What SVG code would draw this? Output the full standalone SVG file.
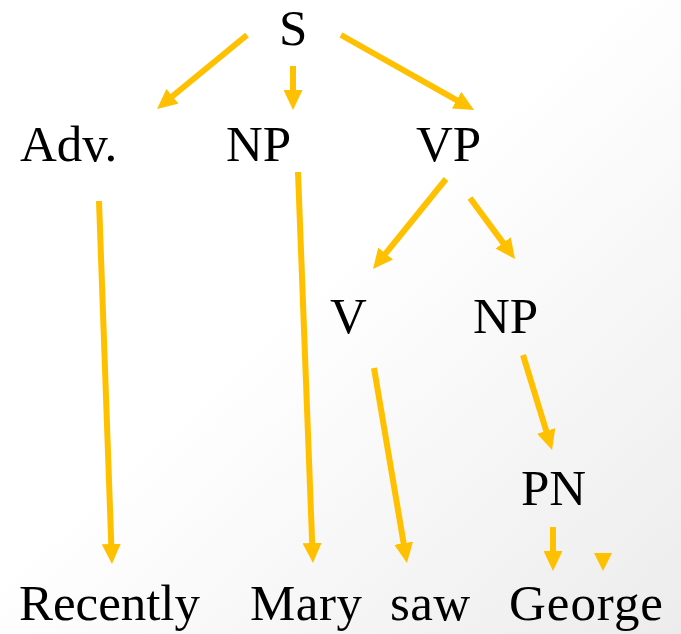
<svg xmlns="http://www.w3.org/2000/svg" width="681" height="634" viewBox="0 0 681 634">
  <defs>
    <linearGradient id="bg" x1="0" y1="0" x2="1" y2="1">
      <stop offset="0" stop-color="#ffffff"/>
      <stop offset="0.45" stop-color="#ffffff"/>
      <stop offset="1" stop-color="#ececec"/>
    </linearGradient>
    <marker id="head" markerUnits="userSpaceOnUse" markerWidth="20" markerHeight="19" viewBox="0 0 20 19" refX="4" refY="9.5" orient="auto">
      <path d="M0,0 L20,9.5 L0,19 z" fill="#ffc000"/>
    </marker>
  </defs>
  <style>
    .lbl { font-family: "Liberation Serif", "DejaVu Serif", serif; font-size: 51px; fill: #000; }
    .arr { stroke: #ffc000; stroke-width: 6; fill: none; marker-end: url(#head); }
  </style>
  <rect width="681" height="634" fill="url(#bg)"/>

  <g id="connectors">
    <line class="arr" x1="247" y1="35" x2="169.4" y2="98.8"/>
    <line class="arr" x1="293" y1="66" x2="293" y2="94"/>
    <line class="arr" x1="341" y1="35" x2="460.1" y2="102.1"/>
    <line class="arr" x1="99" y1="201" x2="111.4" y2="548"/>
    <line class="arr" x1="298" y1="172" x2="312.3" y2="547"/>
    <line class="arr" x1="446" y1="179" x2="383.1" y2="256.6"/>
    <line class="arr" x1="470" y1="198" x2="505.5" y2="246.1"/>
    <line class="arr" x1="374" y1="368" x2="404.3" y2="547.2"/>
    <line class="arr" x1="523" y1="355" x2="547.4" y2="434.7"/>
    <line class="arr" x1="553" y1="527" x2="553" y2="555"/>
    <polygon points="594,553 612,553 603,571" fill="#ffc000"/>
  </g>

  <g id="n-S"><text class="lbl" x="279" y="45">S</text></g>
  <g id="n-Adv"><text class="lbl" x="20" y="161">Adv.</text></g>
  <g id="n-NP1"><text class="lbl" x="226" y="161">NP</text></g>
  <g id="n-VP"><text class="lbl" x="416" y="161">VP</text></g>
  <g id="n-V"><text class="lbl" x="330" y="333">V</text></g>
  <g id="n-NP2"><text class="lbl" x="473" y="333">NP</text></g>
  <g id="n-PN"><text class="lbl" x="521" y="505">PN</text></g>
  <g id="n-Recently"><text class="lbl" x="19" y="620" textLength="181">Recently</text></g>
  <g id="n-Mary"><text class="lbl" x="250" y="620" textLength="112">Mary</text></g>
  <g id="n-saw"><text class="lbl" x="390" y="620" textLength="80">saw</text></g>
  <g id="n-George"><text class="lbl" x="509" y="620" textLength="154">George</text></g>
</svg>
